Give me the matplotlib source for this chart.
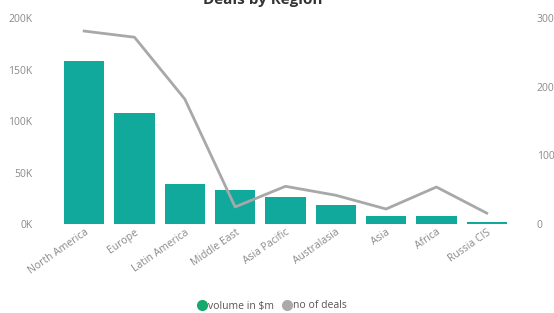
import matplotlib
matplotlib.use("Agg")
import matplotlib.pyplot as plt
from matplotlib.lines import Line2D

regions = ["North America", "Europe", "Latin America", "Middle East", "Asia Pacific",
           "Australasia", "Asia", "Africa", "Russia CIS"]
volume = [158000, 108000, 39000, 33000, 26000, 18500, 8000, 7500, 2000]
deals = [281, 272, 182, 25, 55, 42, 22, 54, 16]
left_ticks = [0, 50000, 100000, 150000, 200000]
left_labels = ["0K", "50K", "100K", "150K", "200K"]
right_ticks = [0, 100, 200, 300]
right_labels = ["0", "100", "200", "300"]

plt.rcParams['font.family'] = ['Open Sans', 'DejaVu Sans']
fig = plt.figure(figsize=(5.54, 3.13), dpi=100)
ax = fig.add_axes([0.1065, 0.284, 0.8175, 0.6585])
x = list(range(len(regions)))
ax.bar(x, volume, width=0.8, color="#11A99B")
ax.set_ylim(0, 200000)
ax.set_xlim(-0.5, len(regions) - 0.5)
ax.set_yticks(left_ticks)
ax.set_yticklabels(left_labels)
ax.set_xticks(x)
ax.set_xticklabels(regions, rotation=35, ha="right", rotation_mode="anchor")
tc = "#8a8a8a"
ax.tick_params(axis="y", length=0, pad=19, labelsize=7.5, labelcolor=tc)
ax.tick_params(axis="x", length=0, pad=2, labelsize=7.5, labelcolor=tc)
for s in ax.spines.values():
    s.set_visible(False)

ax2 = ax.twinx()
ax2.plot(x, deals, color="#A8A8A8", linewidth=2)
ax2.set_ylim(0, 300)
ax2.set_yticks(right_ticks)
ax2.set_yticklabels(right_labels)
ax2.tick_params(axis="y", length=0, pad=18, labelsize=7.5, labelcolor=tc)
for s in ax2.spines.values():
    s.set_visible(False)

fig.text(0.475, 1 - 4/313, "Deals by Region", ha="center", va="baseline",
         fontsize=11, fontweight="bold", color="#333333")

handles = [Line2D([], [], marker="o", linestyle="", color="#17A86E", markersize=7),
           Line2D([], [], marker="o", linestyle="", color="#AAAAAA", markersize=7)]
fig.legend(handles, ["volume in $m", "no of deals"], loc="center", bbox_to_anchor=(0.49, 1 - 306/313),
           ncol=2, frameon=False, fontsize=7.5, labelcolor="#555555", handletextpad=0.0,
           columnspacing=0.6, handlelength=1.2)
fig.savefig("out.png", dpi=100)
